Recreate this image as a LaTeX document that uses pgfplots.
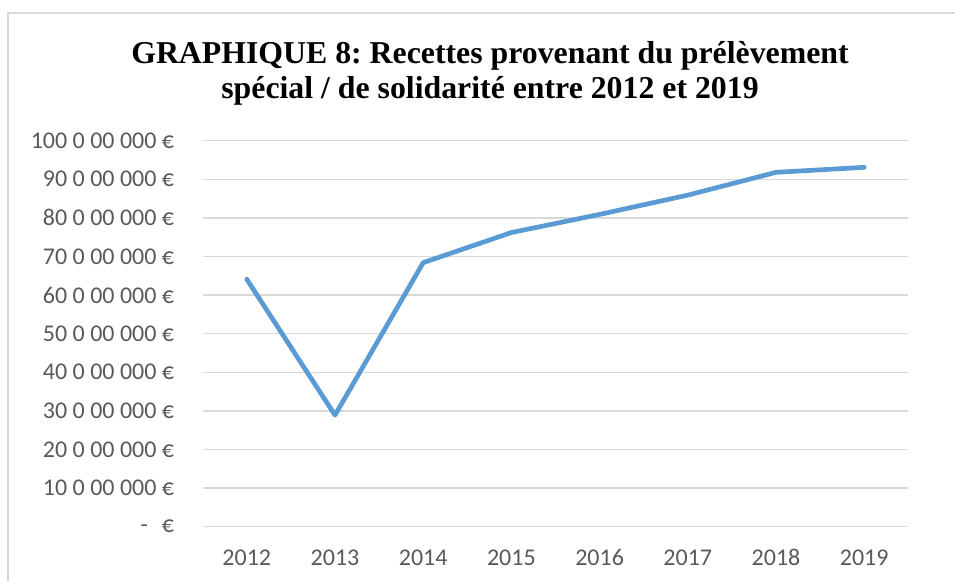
\documentclass[border=0pt]{standalone}
\usepackage{fontspec}
\setmainfont{Liberation Serif}
\newfontfamily\calibri{Carlito}
\usepackage{pgfplots}
\pgfplotsset{compat=1.18}
\definecolor{linecol}{HTML}{5B9BD5}
\definecolor{gridcol}{HTML}{D9D9D9}
\definecolor{labcol}{HTML}{595959}
\definecolor{framecol}{HTML}{D9D9D9}
\frenchspacing
\begin{document}
\begin{tikzpicture}[x=1bp,y=1bp]
\begin{axis}[
  scale only axis,
  width=705.6bp, height=386bp,
  xmin=-0.5, xmax=7.5, ymin=0, ymax=100,
  axis line style={draw=none},
  xtick={0,1,2,3,4,5,6,7},
  xticklabels={2012,2013,2014,2015,2016,2017,2018,2019},
  ytick={0,10,20,30,40,50,60,70,80,90,100},
  yticklabels={{-\hspace{14bp}€},{10 0 00 000 €},{20 0 00 000 €},{30 0 00 000 €},{40 0 00 000 €},{50 0 00 000 €},{60 0 00 000 €},{70 0 00 000 €},{80 0 00 000 €},{90 0 00 000 €},{100 0 00 000 €}},
  major tick length=0pt,
  ymajorgrids,
  grid style={gridcol, line width=1.3bp},
  tick label style={font=\calibri\fontsize{24bp}{28bp}\selectfont, text=labcol, inner sep=0pt},
  yticklabel style={anchor=east, xshift=-28.4bp},
  xticklabel style={anchor=base, yshift=-39bp},
  clip=false,
]
\addplot[linecol, line width=4.7bp, line join=round, line cap=round] coordinates {
  (0,64.1) (1,28.9) (2,68.4) (3,76.2) (4,80.9) (5,85.9) (6,91.8) (7,93.1)
};
\end{axis}
\draw[framecol, line width=1.3bp] (-194.7,-60) -- (-194.7,513.7) -- (760,513.7);
\node[anchor=base, inner sep=0pt, font=\bfseries\fontsize{31.8bp}{36bp}\selectfont] at (287.3,463.2) {GRAPHIQUE 8: Recettes provenant du prélèvement};
\node[anchor=base, inner sep=0pt, font=\bfseries\fontsize{31.8bp}{36bp}\selectfont] at (287.3,427.7) {spécial / de solidarité entre 2012 et 2019};
\pgfresetboundingbox
\path[use as bounding box] (-202.7,-54.3) rectangle (752.3,526.7);
\end{tikzpicture}
\end{document}
